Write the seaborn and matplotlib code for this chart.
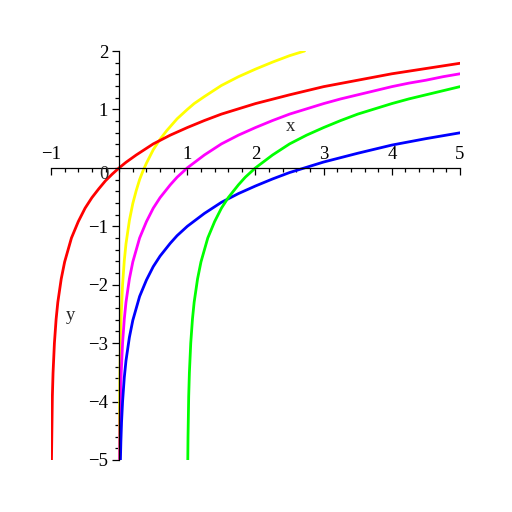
import pandas as pd
import seaborn as sns
import matplotlib.pyplot as plt
from matplotlib.ticker import MultipleLocator, FixedLocator, FixedFormatter

# curves
red_x = [-0.993, -0.98, -0.97, -0.95, -0.925, -0.9, -0.85, -0.8, -0.7, -0.6, -0.5, -0.4, -0.3,
         -0.2, -0.1, 0, 0.1, 0.25, 0.5, 0.75, 1, 1.25, 1.5, 1.75, 2, 2.5, 3, 3.5, 4, 4.5, 5]
red_y = [-5, -3.91, -3.51, -3.0, -2.59, -2.30, -1.90, -1.61, -1.20, -0.92, -0.69, -0.51, -0.36,
         -0.22, -0.105, 0, 0.095, 0.22, 0.41, 0.56, 0.69, 0.81, 0.92, 1.01, 1.10, 1.25, 1.39,
         1.50, 1.61, 1.70, 1.79]

yellow_x = [0.0025, 0.005, 0.01, 0.02, 0.03, 0.05, 0.075, 0.1, 0.15, 0.2, 0.25, 0.3, 0.35, 0.4,
            0.5, 0.6, 0.7, 0.85, 1, 1.1, 1.25, 1.5, 1.75, 2, 2.25, 2.5, 2.72]
yellow_y = [-5, -4.30, -3.61, -2.91, -2.51, -2.0, -1.59, -1.30, -0.90, -0.61, -0.39, -0.20,
            -0.05, 0.08, 0.31, 0.49, 0.64, 0.84, 1.0, 1.10, 1.22, 1.41, 1.56, 1.69, 1.81, 1.92, 2.0]

magenta_x = [0.0067, 0.01, 0.02, 0.03, 0.05, 0.075, 0.1, 0.15, 0.2, 0.3, 0.4, 0.5, 0.6, 0.75,
             0.85, 1, 1.25, 1.5, 1.75, 2, 2.25, 2.5, 2.75, 3, 3.25, 3.5, 3.75, 4, 4.25, 4.5,
             4.75, 5]
magenta_y = [-5, -4.61, -3.91, -3.51, -3.0, -2.59, -2.30, -1.90, -1.61, -1.20, -0.92, -0.69,
             -0.51, -0.29, -0.16, 0, 0.22, 0.41, 0.56, 0.69, 0.81, 0.92, 1.01, 1.10, 1.18, 1.25,
             1.32, 1.39, 1.45, 1.50, 1.56, 1.61]

green_x = [1.0067, 1.01, 1.02, 1.03, 1.05, 1.075, 1.1, 1.15, 1.2, 1.3, 1.4, 1.5, 1.6, 1.75,
           1.85, 2, 2.25, 2.5, 2.75, 3, 3.25, 3.5, 3.75, 4, 4.25, 4.5, 4.75, 5]
green_y = [-5, -4.61, -3.91, -3.51, -3.0, -2.59, -2.30, -1.90, -1.61, -1.20, -0.92, -0.69,
           -0.51, -0.29, -0.16, 0, 0.22, 0.41, 0.56, 0.69, 0.81, 0.92, 1.01, 1.10, 1.18, 1.25,
           1.32, 1.39]

blue_x = [0.0183, 0.025, 0.035, 0.05, 0.075, 0.1, 0.15, 0.2, 0.3, 0.4, 0.5, 0.6, 0.75, 0.85,
          1, 1.25, 1.5, 1.75, 2, 2.25, 2.5, 2.75, 3, 3.5, 4, 4.5, 5]
blue_y = [-5, -4.69, -4.35, -4.0, -3.59, -3.30, -2.90, -2.61, -2.20, -1.92, -1.69, -1.51,
          -1.29, -1.16, -1.0, -0.78, -0.59, -0.44, -0.31, -0.19, -0.08, 0.01, 0.10, 0.25,
          0.39, 0.50, 0.60]

x_ticks = [-1, 1, 2, 3, 4, 5]
y_ticks = [-5, -4, -3, -2, -1, 1, 2]

sns.set_style('white')
plt.rcParams['font.family'] = ['Liberation Serif', 'DejaVu Serif']

fig = plt.figure(figsize=(5.12, 5.12), dpi=100)
ax = fig.add_axes([51 / 512, 1 - 460 / 512, 409 / 512, 409 / 512])

curves = [(yellow_x, yellow_y, '#ffff00'), (magenta_x, magenta_y, '#ff00ff'),
          (blue_x, blue_y, '#0000ff'), (green_x, green_y, '#00ff00'),
          (red_x, red_y, '#ff0000')]
for xs, ys, c in curves:
    df = pd.DataFrame({'x': xs, 'y': ys})
    sns.lineplot(x='x', y='y', data=df, sort=False, estimator=None, color=c,
                 linewidth=2.0, ax=ax)

ax.set_xlim(-1, 5)
ax.set_ylim(-5, 2)
ax.set_xlabel('')
ax.set_ylabel('')

for s in ['top', 'right']:
    ax.spines[s].set_visible(False)
ax.spines['left'].set_position(('data', 0))
ax.spines['bottom'].set_position(('data', 0))
for s in ['left', 'bottom']:
    ax.spines[s].set_color('black')
    ax.spines[s].set_linewidth(0.9)

ax.xaxis.set_major_locator(FixedLocator(x_ticks))
ax.xaxis.set_major_formatter(FixedFormatter([str(v).replace('-', '\u2212') for v in x_ticks]))
ax.yaxis.set_major_locator(FixedLocator(y_ticks))
ax.yaxis.set_major_formatter(FixedFormatter([str(v).replace('-', '\u2212') for v in y_ticks]))
ax.xaxis.set_minor_locator(MultipleLocator(0.2))
ax.yaxis.set_minor_locator(MultipleLocator(0.2))

ax.tick_params(axis='x', which='major', direction='out', length=5, width=0.9,
               colors='black', labelsize=13.5, pad=-20.5)
ax.tick_params(axis='y', which='major', direction='out', length=5, width=0.9,
               colors='black', labelsize=13.5, pad=3)
ax.tick_params(which='minor', direction='out', length=3, width=0.9, colors='black')
ax.tick_params(bottom=True, left=True, which='both')

ax.text(-0.22, -0.11, '0', ha='center', va='center', fontsize=13.5)
ax.text(2.51, 0.70, 'x', ha='center', va='center', fontsize=13.5)
ax.text(-0.72, -2.53, 'y', ha='center', va='center', fontsize=13.5)

fig.savefig('out.png', dpi=100)
